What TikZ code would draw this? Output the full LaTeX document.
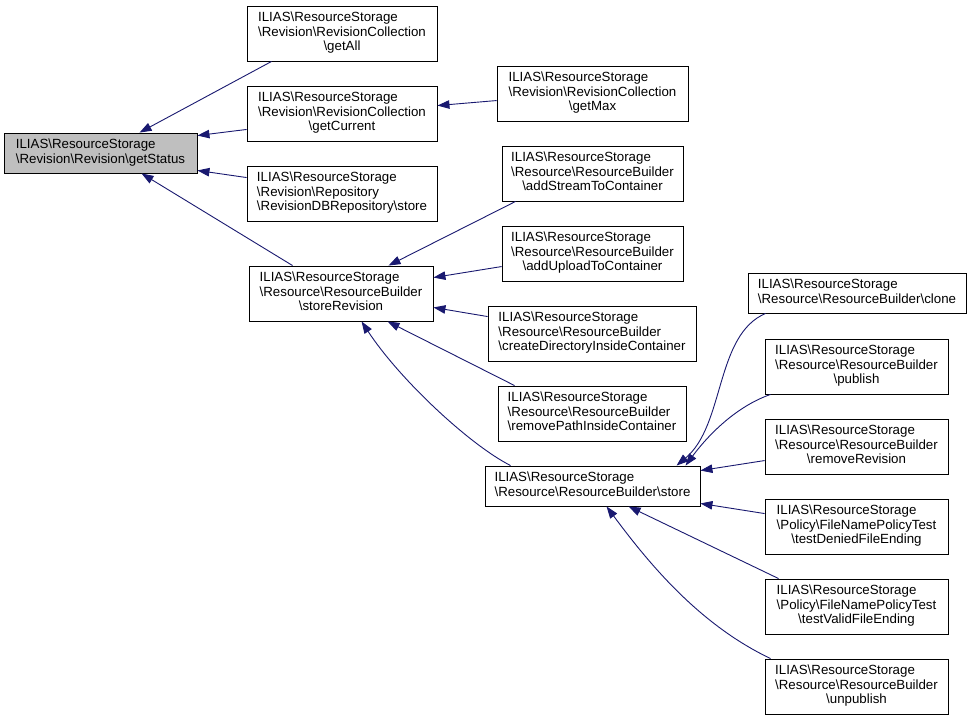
\documentclass[tikz,border=0pt]{standalone}
\usepackage{fontspec}
\setmainfont{Liberation Sans}
\usetikzlibrary{arrows.meta}
\definecolor{edgecol}{HTML}{191970}
\definecolor{hlfill}{HTML}{BFBFBF}
\newcommand{\bsl}{\textbackslash}
\newcommand{\lbtwo}[2]{\begin{tabular}{@{}l@{}}#1\\\multicolumn{1}{@{}c@{}}{#2}\end{tabular}}
\newcommand{\lbthree}[3]{\begin{tabular}{@{}l@{}}#1\\#2\\\multicolumn{1}{@{}c@{}}{#3}\end{tabular}}
\begin{document}
\begin{tikzpicture}[x=1pt,y=-1pt,
  box/.style={draw=black, line width=0.9pt, rectangle, inner sep=0pt, fill=white,
    font=\fontsize{13.3}{14.5}\selectfont},
  tall/.style={box, minimum height=55pt},
  short/.style={box, minimum height=40pt},
  arr/.style={draw=edgecol, line width=0.9pt, -{Triangle[length=12pt,width=8.5pt]}}]
\useasboundingbox[fill=white] (0,0) rectangle (971,720);

\node[short, fill=hlfill, minimum width=193pt] (getStatus) at (100.5,153)
  {\lbtwo{ILIAS\bsl ResourceStorage}{\bsl Revision\bsl Revision\bsl getStatus}};
\node[tall, minimum width=190pt] (getAll) at (342,33.5)
  {\lbthree{ILIAS\bsl ResourceStorage}{\bsl Revision\bsl RevisionCollection}{\bsl getAll}};
\node[tall, minimum width=190pt] (getCurrent) at (342,113.5)
  {\lbthree{ILIAS\bsl ResourceStorage}{\bsl Revision\bsl RevisionCollection}{\bsl getCurrent}};
\node[tall, minimum width=190pt] (repoStore) at (342,193.5)
  {\lbthree{ILIAS\bsl ResourceStorage}{\bsl Revision\bsl Repository}{\bsl RevisionDBRepository\bsl store}};
\node[tall, minimum width=191pt] (getMax) at (592.5,93.5)
  {\lbthree{ILIAS\bsl ResourceStorage}{\bsl Revision\bsl RevisionCollection}{\bsl getMax}};
\node[tall, minimum width=184pt] (storeRev) at (341,293.5)
  {\lbthree{ILIAS\bsl ResourceStorage}{\bsl Resource\bsl ResourceBuilder}{\bsl storeRevision}};
\node[tall, minimum width=181pt] (addStream) at (592.5,173.5)
  {\lbthree{ILIAS\bsl ResourceStorage}{\bsl Resource\bsl ResourceBuilder}{\bsl addStreamToContainer}};
\node[tall, minimum width=181pt] (addUpload) at (592.5,253.5)
  {\lbthree{ILIAS\bsl ResourceStorage}{\bsl Resource\bsl ResourceBuilder}{\bsl addUploadToContainer}};
\node[tall, minimum width=208pt] (createDir) at (592,333.5)
  {\lbthree{ILIAS\bsl ResourceStorage}{\bsl Resource\bsl ResourceBuilder}{\bsl createDirectoryInsideContainer}};
\node[tall, minimum width=188pt] (removePath) at (592,413.5)
  {\lbthree{ILIAS\bsl ResourceStorage}{\bsl Resource\bsl ResourceBuilder}{\bsl removePathInsideContainer}};
\node[short, minimum width=215pt] (store) at (592.5,486)
  {\lbtwo{ILIAS\bsl ResourceStorage}{\bsl Resource\bsl ResourceBuilder\bsl store}};
\node[short, minimum width=218pt] (clone) at (857,293)
  {\lbtwo{ILIAS\bsl ResourceStorage}{\bsl Resource\bsl ResourceBuilder\bsl clone}};
\node[tall, minimum width=183pt] (publish) at (856.5,366.5)
  {\lbthree{ILIAS\bsl ResourceStorage}{\bsl Resource\bsl ResourceBuilder}{\bsl publish}};
\node[tall, minimum width=183pt] (removeRev) at (856.5,446.5)
  {\lbthree{ILIAS\bsl ResourceStorage}{\bsl Resource\bsl ResourceBuilder}{\bsl removeRevision}};
\node[tall, minimum width=183pt] (testDenied) at (856.5,526.5)
  {\lbthree{ILIAS\bsl ResourceStorage}{\bsl Policy\bsl FileNamePolicyTest}{\bsl testDeniedFileEnding}};
\node[tall, minimum width=183pt] (testValid) at (856.5,606.5)
  {\lbthree{ILIAS\bsl ResourceStorage}{\bsl Policy\bsl FileNamePolicyTest}{\bsl testValidFileEnding}};
\node[tall, minimum width=183pt] (unpublish) at (856.5,686.5)
  {\lbthree{ILIAS\bsl ResourceStorage}{\bsl Resource\bsl ResourceBuilder}{\bsl unpublish}};

\draw[arr] ([xshift=25pt]getAll.south west) -- ([xshift=136pt]getStatus.north west);
\draw[arr] ([yshift=12pt]getCurrent.south west) -- ([yshift=-3pt]getStatus.north east);
\draw[arr] ([yshift=-12pt]repoStore.north west) -- ([yshift=3pt]getStatus.south east);
\draw[arr] ([xshift=44pt]storeRev.north west) -- ([xshift=138pt]getStatus.south west);
\draw[arr] ([yshift=-35pt]getMax.north west) -- ([yshift=-20pt]getCurrent.north east);
\draw[arr] ([xshift=14pt]addStream.south west) -- ([xshift=140pt]storeRev.north west);
\draw[arr] ([yshift=-41pt]addUpload.north west) -- ([yshift=-12pt]storeRev.north east);
\draw[arr] ([yshift=-11pt]createDir.north west) -- ([yshift=14pt]storeRev.south east);
\draw[arr] ([xshift=17pt]removePath.north west) -- ([xshift=139pt]storeRev.south west);
\draw[arr] ([xshift=26pt]store.north west) .. controls (470,445) and (400,380) .. ([xshift=113pt]storeRev.south west);
\draw[arr] ([xshift=18pt]clone.south west) .. controls (715,335) and (725,425) .. ([xshift=192pt]store.north west);
\draw[arr] ([xshift=6pt]publish.south west) .. controls (740,405) and (712,430) .. ([xshift=201pt]store.north west);
\draw[arr] ([yshift=-42pt]removeRev.north west) -- ([yshift=-5pt]store.north east);
\draw[arr] ([yshift=-15pt]testDenied.north west) -- ([yshift=3pt]store.south east);
\draw[arr] ([xshift=14pt]testValid.north west) -- ([xshift=144pt]store.south west);
\draw[arr] ([xshift=6pt]unpublish.north west) .. controls (700,625) and (650,565) .. ([xshift=122pt]store.south west);
\end{tikzpicture}
\end{document}
